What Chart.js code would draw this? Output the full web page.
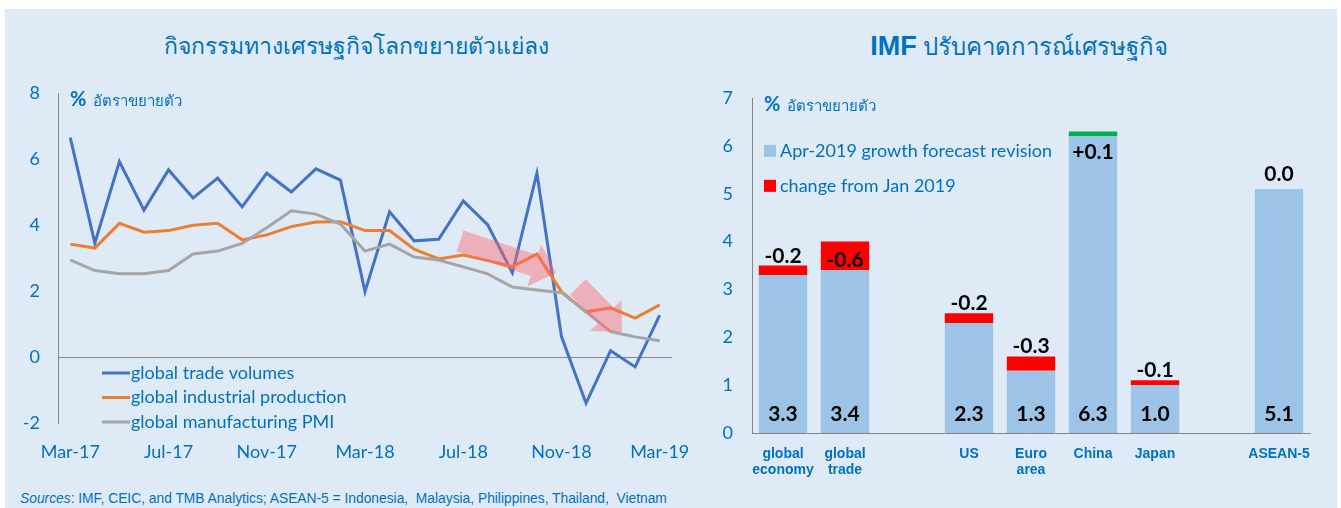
<!DOCTYPE html>
<html>
<head>
<meta charset="utf-8">
<script src="https://cdn.jsdelivr.net/npm/chart.js@4.4.0/dist/chart.umd.min.js"></script>
<style>
  html, body { margin: 0; padding: 0; background: #fff; }
  body { width: 1341px; height: 508px; position: relative; overflow: hidden; font-family: Lato, sans-serif; }
  #panel { position: absolute; left: 5px; top: 9px; width: 1332px; height: 499px; background: #DEEBF7; }
  .title { position: absolute; top: 28px; color: #0070C0; font-size: 23px; white-space: nowrap; transform: translateX(-50%); }
  #t-left { left: 356px; }
  #t-right { left: 1019px; top: 27px; font-size: 24px; }
  #t-right b { font-family: "Liberation Sans", Arial, sans-serif; font-size: 27px; }
  #wrap-left { position: absolute; left: 0; top: 0; width: 690px; height: 480px; }
  #wrap-right { position: absolute; left: 700px; top: 0; width: 635px; height: 508px; }
  #source { position: absolute; left: 20px; top: 491px; font: 13.8px "Liberation Sans Narrow", "Liberation Sans", sans-serif; color: #0070C0; white-space: nowrap; }
</style>
</head>
<body>
<div id="panel"></div>
<div class="title" id="t-left">กิจกรรมทางเศรษฐกิจโลกขยายตัวแย่ลง</div>
<div class="title" id="t-right"><b>IMF</b> ปรับคาดการณ์เศรษฐกิจ</div>
<div id="wrap-left"><canvas id="chart-left" width="690" height="480"></canvas></div>
<div id="wrap-right"><canvas id="chart-right" width="635" height="508"></canvas></div>
<div id="source"><i>Sources</i>: IMF, CEIC, and TMB Analytics; ASEAN-5 = Indonesia,&nbsp; Malaysia, Philippines, Thailand,&nbsp; Vietnam</div>

<script>
/* ── palette ── */
const BLUE_TEXT = "#0070C0";
const AXIS_GREY = "#868686";
const LINE_COLORS = ["#4472C4", "#ED7D31", "#A5A5A5"];

Chart.defaults.font.family = "Lato, 'Open Sans', sans-serif";
Chart.defaults.color = BLUE_TEXT;

/* ── left chart data ── */
const MONTHS = [
  "Mar-17", "Apr-17", "May-17", "Jun-17", "Jul-17", "Aug-17", "Sep-17", "Oct-17", "Nov-17", "Dec-17",
  "Jan-18", "Feb-18", "Mar-18", "Apr-18", "May-18", "Jun-18", "Jul-18", "Aug-18", "Sep-18", "Oct-18",
  "Nov-18", "Dec-18", "Jan-19", "Feb-19", "Mar-19",
];
const TRADE_VOLUMES = [
  6.65, 3.45, 5.92, 4.45, 5.67, 4.82, 5.42, 4.55, 5.57, 5.0,
  5.7, 5.36, 1.98, 4.4, 3.52, 3.57, 4.73, 4.0, 2.55, 5.57,
  0.62, -1.4, 0.19, -0.3, 1.27,
];
const INDUSTRIAL_PROD = [
  3.42, 3.3, 4.05, 3.78, 3.83, 3.99, 4.05, 3.55, 3.7, 3.95,
  4.09, 4.1, 3.83, 3.83, 3.27, 2.97, 3.09, 2.92, 2.74, 3.12,
  1.98, 1.37, 1.49, 1.18, 1.58,
];
const MANUF_PMI = [
  2.94, 2.62, 2.52, 2.52, 2.62, 3.12, 3.21, 3.44, 3.92, 4.43,
  4.33, 4.03, 3.21, 3.42, 3.03, 2.94, 2.73, 2.52, 2.12, 2.03,
  1.95, 1.37, 0.77, 0.61, 0.49,
];
const LINE_NAMES = ["global trade volumes", "global industrial production", "global manufacturing PMI"];
const LEFT_Y_MIN = -2, LEFT_Y_MAX = 8, LEFT_Y_STEP = 2;
const X_LABEL_EVERY = 4;
// trend arrows: [monthIndex, value] tail -> tip
const TREND_ARROWS = [
  { from: [15.87, 3.52], to: [19.78, 2.55] },
  { from: [20.67, 2.12], to: [22.46, 0.76] },
];

/* ── right chart data ── */
const REGIONS = [["global", "economy"], ["global", "trade"], "", "US", ["Euro", "area"], "China", "Japan", "", "ASEAN-5"];
const APR_2019_FORECAST = [3.3, 3.4, null, 2.3, 1.3, 6.3, 1.0, null, 5.1];
const CHANGE_FROM_JAN = [-0.2, -0.6, null, -0.2, -0.3, 0.1, -0.1, null, 0.0];
const BAR_NAMES = ["Apr-2019 growth forecast revision", "change from Jan 2019"];
const RIGHT_Y_MIN = 0, RIGHT_Y_MAX = 7;
const AXIS_TITLE = "อัตราขยายตัว";

/* ── helpers ── */
function fixBox(size) {
  return scale => {
    if (scale.isHorizontal()) scale.height = size; else scale.width = size;
    scale.paddingLeft = scale.paddingRight = scale.paddingTop = scale.paddingBottom = 0;
  };
}

function drawAxisTitle(chart) {
  const { ctx, chartArea } = chart;
  ctx.save();
  ctx.fillStyle = BLUE_TEXT;
  ctx.textBaseline = "middle";
  ctx.font = "bold 20px Lato, sans-serif";
  const x = chartArea.left + 12, y = chartArea.top + 7;
  ctx.fillText("%", x, y);
  const w = ctx.measureText("%").width;
  ctx.font = "15px Lato, sans-serif";
  ctx.fillText(AXIS_TITLE, x + w + 7, y + 1);
  ctx.restore();
}

/* ── left: line chart ── */
const arrowPlugin = {
  id: "arrows",
  afterDatasetsDraw(chart) {
    const { ctx, scales: { x, y } } = chart;
    ctx.save();
    ctx.fillStyle = "rgba(255,105,110,0.45)";
    TREND_ARROWS.forEach(a => {
      const x0 = x.getPixelForValue(a.from[0]), y0 = y.getPixelForValue(a.from[1]);
      const x1 = x.getPixelForValue(a.to[0]),   y1 = y.getPixelForValue(a.to[1]);
      const len = Math.hypot(x1 - x0, y1 - y0);
      const ux = (x1 - x0) / len, uy = (y1 - y0) / len;
      const nx = -uy, ny = ux;
      const shaft = 11, head = 22, headLen = 23;
      const bx = x1 - ux * headLen, by = y1 - uy * headLen;
      ctx.beginPath();
      ctx.moveTo(x0 + nx * shaft, y0 + ny * shaft);
      ctx.lineTo(bx + nx * shaft, by + ny * shaft);
      ctx.lineTo(bx + nx * head, by + ny * head);
      ctx.lineTo(x1, y1);
      ctx.lineTo(bx - nx * head, by - ny * head);
      ctx.lineTo(bx - nx * shaft, by - ny * shaft);
      ctx.lineTo(x0 - nx * shaft, y0 - ny * shaft);
      ctx.closePath();
      ctx.fill();
    });
    ctx.restore();
  },
};

const lineLegendPlugin = {
  id: "lineLegend",
  afterDraw(chart) {
    const { ctx, chartArea, scales: { y } } = chart;
    const y0 = y.getPixelForValue(0);
    ctx.save();
    ctx.font = "18px Lato, sans-serif";
    ctx.textBaseline = "middle";
    chart.data.datasets.forEach((ds, i) => {
      const ly = y0 + 16 + i * 24.5;
      const lx = chartArea.left + 44;
      ctx.strokeStyle = ds.borderColor;
      ctx.lineWidth = 3;
      ctx.beginPath();
      ctx.moveTo(lx, ly);
      ctx.lineTo(lx + 28, ly);
      ctx.stroke();
      ctx.fillStyle = BLUE_TEXT;
      ctx.fillText(ds.label, lx + 29, ly);
    });
    ctx.restore();
    drawAxisTitle(chart);
  },
};

new Chart(document.getElementById("chart-left"), {
  type: "line",
  data: {
    labels: MONTHS,
    datasets: [TRADE_VOLUMES, INDUSTRIAL_PROD, MANUF_PMI].map((d, i) => ({
      label: LINE_NAMES[i],
      data: d,
      borderColor: LINE_COLORS[i],
      borderWidth: 3,
      pointRadius: 0,
      tension: 0,
      order: 2 - i,
    })),
  },
  options: {
    responsive: false,
    animation: false,
    layout: { padding: { left: 0, top: 93, right: 18, bottom: 17 } },
    plugins: { legend: { display: false }, tooltip: { enabled: false } },
    scales: {
      x: {
        offset: true,
        afterFit: fixBox(40),
        grid: { display: false },
        border: { display: false },
        ticks: {
          autoSkip: false,
          maxRotation: 0,
          padding: 10,
          font: { size: 18 },
          callback: (v, i) => (i % X_LABEL_EVERY === 0 ? MONTHS[i] : ""),
        },
      },
      y: {
        min: LEFT_Y_MIN,
        max: LEFT_Y_MAX,
        afterFit: fixBox(58),
        border: { display: true, color: AXIS_GREY },
        grid: {
          drawTicks: false,
          color: c => (c.tick && c.tick.value === 0 ? AXIS_GREY : "transparent"),
        },
        ticks: { stepSize: LEFT_Y_STEP, padding: 18, font: { size: 18 } },
      },
    },
  },
  plugins: [arrowPlugin, lineLegendPlugin],
});

/* ── right: stacked bars ── */
const BASE = APR_2019_FORECAST.map((v, i) => (v == null ? null : Math.min(v, v - CHANGE_FROM_JAN[i])));
const CUT  = CHANGE_FROM_JAN.map(c => (c != null && c < 0 ? -c : null));
const RAISE = CHANGE_FROM_JAN.map(c => (c != null && c > 0 ? c : null));

const barLabelPlugin = {
  id: "barLabels",
  afterDraw(chart) {
    const { ctx, scales: { x, y } } = chart;
    ctx.save();
    ctx.fillStyle = "#000";
    ctx.textAlign = "center";
    ctx.font = "bold 21px Lato, sans-serif";
    const y0 = y.getPixelForValue(0);
    APR_2019_FORECAST.forEach((v, i) => {
      if (v == null) return;
      const cx = x.getPixelForValue(i);
      const c = CHANGE_FROM_JAN[i];
      ctx.textBaseline = "middle";
      ctx.fillText(v.toFixed(1), cx, y0 - 19);
      const top = y.getPixelForValue(BASE[i] + Math.abs(c));
      const txt = (c > 0 ? "+" : "") + c.toFixed(1);
      if (c > 0) {
        ctx.fillText(txt, cx, y.getPixelForValue(BASE[i]) + 16);
      } else if (Math.abs(c) >= 0.5) {
        ctx.fillText(txt, cx, (top + y.getPixelForValue(BASE[i])) / 2 + 4);
      } else {
        ctx.textBaseline = "alphabetic";
        ctx.fillText(txt, cx, top - (c === 0 ? 8 : 3));
      }
    });
    ctx.restore();

    // legend
    const { chartArea } = chart;
    ctx.save();
    ctx.font = "18px Lato, sans-serif";
    ctx.textBaseline = "middle";
    [chart.data.datasets[0], chart.data.datasets[1]].forEach((ds, i) => {
      const ly = y.getPixelForValue(6) + 5 + i * 35;
      const lx = chartArea.left + 12;
      ctx.fillStyle = ds.backgroundColor;
      ctx.fillRect(lx, ly - 6, 12, 12);
      ctx.fillStyle = BLUE_TEXT;
      ctx.fillText(BAR_NAMES[i], lx + 16, ly);
    });
    ctx.restore();
    drawAxisTitle(chart);
  },
};

new Chart(document.getElementById("chart-right"), {
  type: "bar",
  data: {
    labels: REGIONS,
    datasets: [
      { label: BAR_NAMES[0], data: BASE,  backgroundColor: "#9DC3E6" },
      { label: BAR_NAMES[1], data: CUT,   backgroundColor: "#FF0000" },
      { label: "raise",      data: RAISE, backgroundColor: "#00B050" },
    ],
  },
  options: {
    responsive: false,
    animation: false,
    datasets: { bar: { barPercentage: 0.78, categoryPercentage: 1.0 } },
    layout: { padding: { left: 0, top: 98, right: 25, bottom: 15 } },
    plugins: { legend: { display: false }, tooltip: { enabled: false } },
    scales: {
      x: {
        stacked: true,
        afterFit: fixBox(60),
        grid: { display: false },
        border: { display: true, color: AXIS_GREY },
        ticks: {
          autoSkip: false,
          maxRotation: 0,
          padding: 6,
          font: { family: "'Liberation Sans', Arial, sans-serif", size: 14, weight: "bold", lineHeight: 1.08 },
        },
      },
      y: {
        stacked: true,
        min: RIGHT_Y_MIN,
        max: RIGHT_Y_MAX,
        afterFit: fixBox(52),
        border: { display: true, color: AXIS_GREY },
        grid: { display: false, drawTicks: false },
        ticks: { stepSize: 1, padding: 19, font: { size: 18 } },
      },
    },
  },
  plugins: [barLabelPlugin],
});
</script>
</body>
</html>
